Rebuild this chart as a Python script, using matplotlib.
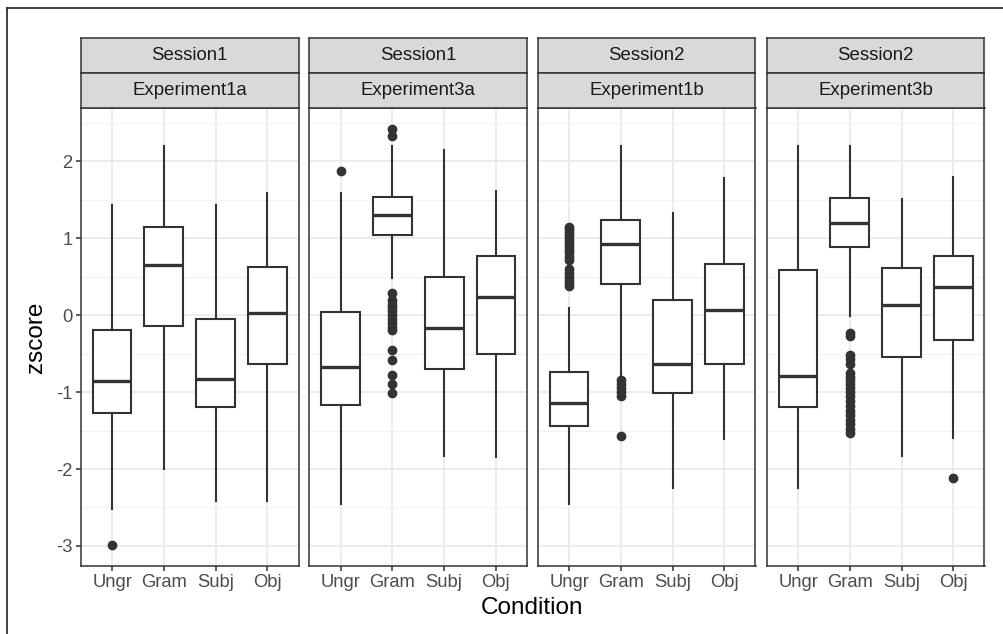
import matplotlib
matplotlib.use("Agg")
import matplotlib.pyplot as plt
from matplotlib.lines import Line2D

plt.rcParams["font.family"] = ["Liberation Sans", "DejaVu Sans"]
plt.rcParams["axes.unicode_minus"] = False

# facet labels
sessions = ["Session1", "Session1", "Session2", "Session2"]
experiments = ["Experiment1a", "Experiment3a", "Experiment1b", "Experiment3b"]
conditions = ["Ungr", "Gram", "Subj", "Obj"]

# box statistics, one row per facet, columns follow `conditions`
whisker_low = [
    [-2.52, -2.00, -2.41, -2.41],
    [-2.45, 0.48, -1.83, -1.85],
    [-2.45, -0.84, -2.25, -1.61],
    [-2.25, -0.01, -1.83, -1.60],
]
q1 = [
    [-1.27, -0.14, -1.20, -0.64],
    [-1.17, 1.04, -0.70, -0.50],
    [-1.44, 0.41, -1.01, -0.63],
    [-1.19, 0.88, -0.55, -0.33],
]
median = [
    [-0.86, 0.645, -0.83, 0.03],
    [-0.67, 1.30, -0.165, 0.23],
    [-1.14, 0.92, -0.64, 0.065],
    [-0.79, 1.20, 0.13, 0.37],
]
q3 = [
    [-0.19, 1.14, -0.05, 0.63],
    [0.04, 1.53, 0.49, 0.77],
    [-0.74, 1.23, 0.195, 0.66],
    [0.58, 1.52, 0.61, 0.77],
]
whisker_high = [
    [1.43, 2.20, 1.43, 1.59],
    [1.59, 2.19, 2.14, 1.61],
    [0.09, 2.19, 1.32, 1.78],
    [2.19, 2.19, 1.51, 1.80],
]
outliers = [
    [[-2.99], [], [], []],
    [[1.87],
     [2.42, 2.32, 0.29, 0.19, 0.15, 0.10, 0.05, 0.0, -0.05, -0.10, -0.15,
      -0.19, -0.45, -0.58, -0.78, -0.89, -1.01],
     [], []],
    [[1.15, 1.12, 1.08, 1.04, 1.00, 0.96, 0.92, 0.88, 0.84, 0.80, 0.76,
      0.71, 0.60, 0.55, 0.50, 0.46, 0.42, 0.38],
     [-0.85, -0.90, -0.95, -1.00, -1.05, -1.57],
     [], []],
    [[],
     [-0.23, -0.27, -0.52, -0.57, -0.63, -0.75, -0.80, -0.85, -0.90, -0.95,
      -1.00, -1.05, -1.12, -1.18, -1.24, -1.30, -1.36, -1.42, -1.48, -1.53],
     [], [-2.12]],
]

W, H = 1004, 634
fig = plt.figure(figsize=(W / 100, H / 100), dpi=100)
fig.patch.set_facecolor("white")


def px_axes(x0, y0, x1, y1):
    # pixel box (top-left origin) -> figure axes
    return fig.add_axes([x0 / W, 1 - y1 / H, (x1 - x0) / W, (y1 - y0) / H])


dark = "#333333"
panel_left = [81, 309.5, 538, 767]
panel_w = 217.5
top, bottom = 108, 566

for i in range(4):
    x0 = panel_left[i]
    ax = px_axes(x0, top, x0 + panel_w, bottom)

    stats = []
    for j in range(4):
        stats.append({
            "whislo": whisker_low[i][j], "q1": q1[i][j], "med": median[i][j],
            "q3": q3[i][j], "whishi": whisker_high[i][j],
            "fliers": outliers[i][j],
        })
    ax.bxp(stats, positions=[1, 2, 3, 4], widths=0.75, showcaps=False,
           patch_artist=True, zorder=3,
           boxprops=dict(facecolor="white", edgecolor=dark, linewidth=1.5),
           medianprops=dict(color=dark, linewidth=2.4),
           whiskerprops=dict(color=dark, linewidth=1.5),
           flierprops=dict(marker="o", markerfacecolor=dark,
                           markeredgecolor=dark, markersize=6))

    ax.set_xlim(0.4, 4.6)
    ax.set_ylim(-3.26, 2.69)
    ax.set_xticks([1, 2, 3, 4])
    ax.set_xticklabels(conditions)
    ax.set_yticks([-3, -2, -1, 0, 1, 2])
    ax.set_yticks([-2.5, -1.5, -0.5, 0.5, 1.5, 2.5], minor=True)
    ax.grid(True, which="major", color="#ebebeb", linewidth=1.3, zorder=0)
    ax.grid(True, which="minor", axis="y", color="#f2f2f2", linewidth=0.8,
            zorder=0)
    ax.set_axisbelow(True)
    ax.tick_params(axis="both", which="major", length=3.5, width=1.1,
                   color=dark, labelsize=13.2, labelcolor="#4d4d4d", pad=2.5)
    ax.tick_params(axis="y", which="minor", length=0)
    if i > 0:
        ax.tick_params(axis="y", which="major", left=False, labelleft=False)
    for s in ax.spines.values():
        s.set_color(dark)
        s.set_linewidth(1.1)

    # two stacked facet strips
    for (y0, y1, label) in [(38, 72.5, sessions[i]), (72.5, 108, experiments[i])]:
        st = px_axes(x0, y0, x0 + panel_w, y1)
        st.set_facecolor("#d9d9d9")
        st.set_xticks([])
        st.set_yticks([])
        for s in st.spines.values():
            s.set_color(dark)
            s.set_linewidth(1.1)
        st.text(0.5, 0.5, label, ha="center", va="center", fontsize=13.4,
                color="#1a1a1a", transform=st.transAxes)

fig.text(532.5 / W, 1 - 608 / H, "Condition", ha="center", va="center",
         fontsize=17.5, color="black")
fig.text(36 / W, 1 - 337 / H, "zscore", ha="center", va="center",
         rotation=90, fontsize=17.5, color="black")

# outer frame (left and top edges)
fig.add_artist(Line2D([7.5 / W, 7.5 / W], [0, 1 - 7.5 / H],
                      transform=fig.transFigure, color="#222222", linewidth=1.2))
fig.add_artist(Line2D([7.5 / W, 1], [1 - 7.5 / H, 1 - 7.5 / H],
                      transform=fig.transFigure, color="#222222", linewidth=1.2))

fig.savefig("out.png", dpi=100)
